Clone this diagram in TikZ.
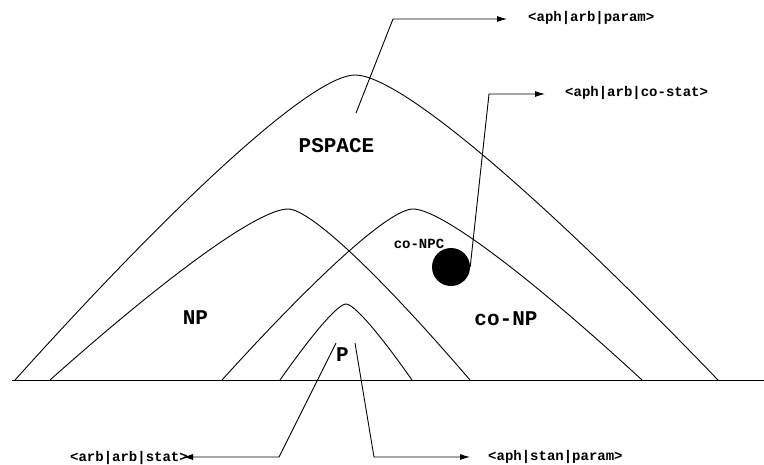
\documentclass[tikz,border=0pt]{standalone}
\usepackage{fontspec}
\setmonofont{Liberation Mono}
\usetikzlibrary{arrows.meta}
\begin{document}
\begin{tikzpicture}[x=1pt,y=-1pt,
  curve/.style={line width=0.9pt},
  conn/.style={line width=0.9pt},
  arr/.style={conn,-{Latex[length=10pt,width=6pt]}},
  big/.style={font=\ttfamily\bfseries\fontsize{21}{21}\selectfont,inner sep=0pt},
  small/.style={font=\ttfamily\bfseries\fontsize{14}{14}\selectfont,inner sep=0pt}]
\useasboundingbox (0,0) rectangle (764,464);
% baseline
\coordinate (bl) at (12,380);
\coordinate (br) at (764,380);
\draw[curve] (bl) -- (br);
% PSPACE
\draw[curve] (15,380) .. controls (185,191) and (314,75) .. (355,75)
  .. controls (399,75) and (536,191) .. (718,380);
% NP
\draw[curve] (50,380) .. controls (169,274) and (259,209) .. (288,209)
  .. controls (310,209) and (379,274) .. (470,380);
% co-NP
\draw[curve] (222,380) .. controls (318,274) and (390,209) .. (413,209)
  .. controls (440,209) and (527,274) .. (642,380);
% P
\draw[curve] (280,380) .. controls (313,333) and (338,304) .. (346,304)
  .. controls (354,304) and (379,333) .. (412,380);
% texts
\node[big] (pspace) at (336.5,146) {PSPACE};
\node[big] (np) at (195.5,318) {NP};
\node[big] (conp) at (506,319) {co-NP};
\node[big] (p) at (342.5,355) {P};
\node[small,anchor=base] (conpc) at (419,248) {co-NPC};
\node[circle,fill=black,minimum size=38pt,inner sep=0pt] (dot) at (451,267) {};
% labels
\node[small,anchor=west] (l1) at (528,18) {<aph|arb|param>};
\node[small,anchor=west] (l2) at (565,93) {<aph|arb|co-stat>};
\node[small,anchor=east] (l3) at (188,458) {<arb|arb|stat>};
\node[small,anchor=west] (l4) at (488,457) {<aph|stan|param>};
% connector points
\coordinate (s1) at (356,113);
\coordinate (c1) at (393,19);
\coordinate (t1) at (507,19);
\coordinate (c2) at (489,94);
\coordinate (t2) at (545,94);
\coordinate (s3) at (336,343);
\coordinate (c3) at (279,457);
\coordinate (t3) at (183,457);
\coordinate (s4) at (355,343);
\coordinate (c4) at (374,457);
\coordinate (t4) at (470,457);
\draw[arr] (s1) -- (c1) -- (t1);
\draw[arr] (dot.east) -- (c2) -- (t2);
\draw[arr] (s3) -- (c3) -- (t3);
\draw[arr] (s4) -- (c4) -- (t4);
\end{tikzpicture}
\end{document}
